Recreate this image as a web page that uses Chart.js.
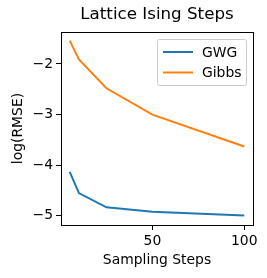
<!DOCTYPE html>
<html><head><meta charset="utf-8">
<script src="https://cdn.jsdelivr.net/npm/chart.js@4"></script>
<style>html,body{margin:0;padding:0;background:#fff}#wrap{width:267px;height:278px}</style>
</head><body><div id="wrap"><canvas id="c"></canvas></div>
<script>
const steps = [5, 10, 25, 50, 100];
const gwg = [-4.13, -4.55, -4.83, -4.92, -4.99];
const gibbs = [-1.54, -1.91, -2.48, -3.00, -3.63];
const xTicks = [50, 100];
const yTicks = [-5, -4, -3, -2];
const seriesNames = ['GWG', 'Gibbs'];
const FONT = "'DejaVu Sans', sans-serif";

const frame = {
  id: 'frame',
  afterLayout(chart) {
    const t = chart.titleBlock, a = chart.chartArea;
    if (t) { t.left = a.left; t.right = a.right; t.width = a.right - a.left; }
  },
  afterDatasetsDraw(chart) {
    const {ctx, chartArea: a} = chart;
    ctx.save();
    ctx.strokeStyle = '#000'; ctx.lineWidth = 1;
    ctx.strokeRect(Math.round(a.left) + 0.5, Math.round(a.top) + 0.5, Math.round(a.right - a.left), Math.round(a.bottom - a.top));
    // legend
    const bx = 157.5, by = 39.5, bw = 89, bh = 46;
    ctx.fillStyle = 'rgba(255,255,255,0.8)';
    ctx.strokeStyle = '#cccccc';
    ctx.beginPath();
    ctx.roundRect(bx, by, bw, bh, 2);
    ctx.fill(); ctx.stroke();
    ctx.font = '13.9px ' + FONT;
    ctx.textBaseline = 'middle';
    chart.data.datasets.forEach((ds, i) => {
      const y = by + 12.5 + i * 20.5;
      ctx.strokeStyle = ds.borderColor; ctx.lineWidth = 2;
      ctx.beginPath(); ctx.moveTo(163, y); ctx.lineTo(193, y); ctx.stroke();
      ctx.fillStyle = '#000';
      ctx.fillText(ds.label, 202, y + 1);
    });
    ctx.restore();
  }
};

new Chart(document.getElementById('c'), {
  type: 'line',
  data: {
    labels: steps,
    datasets: [
      {label: seriesNames[0], data: steps.map((x, i) => ({x, y: gwg[i]})), borderColor: '#1f77b4', borderWidth: 2, pointRadius: 0, fill: false, tension: 0},
      {label: seriesNames[1], data: steps.map((x, i) => ({x, y: gibbs[i]})), borderColor: '#ff7f0e', borderWidth: 2, pointRadius: 0, fill: false, tension: 0}
    ]
  },
  options: {
    responsive: true, maintainAspectRatio: false, animation: false,
    layout: {padding: {left: 0, right: 14, top: 0, bottom: 0}},
    plugins: {
      legend: {display: false},
      tooltip: {enabled: false},
      title: {display: true, text: 'Lattice Ising Steps', color: '#000', font: {family: FONT, size: 16.7, weight: 'normal'}, padding: {top: 5, bottom: 7}}
    },
    scales: {
      x: {
        type: 'linear', min: 0.25, max: 104.75,
        afterBuildTicks: s => { s.ticks = xTicks.map(v => ({value: v})); },
        afterFit: s => { s.height = 53; },
        grid: {drawOnChartArea: false, tickLength: 5, color: '#000'},
        border: {display: false},
        ticks: {color: '#000', font: {family: FONT, size: 13.9}, padding: 3, maxRotation: 0},
        title: {display: true, text: 'Sampling Steps', color: '#000', font: {family: FONT, size: 13.9}, padding: {top: 1, bottom: 9}}
      },
      y: {
        type: 'linear', min: -5.18, max: -1.37,
        afterBuildTicks: s => { s.ticks = yTicks.map(v => ({value: v})); },
        afterFit: s => { s.width = 61; },
        grid: {drawOnChartArea: false, tickLength: 5, color: '#000'},
        border: {display: false},
        ticks: {color: '#000', font: {family: FONT, size: 13.9}, padding: 3, callback: v => String(v).replace('-', '\u2212')},
        title: {display: true, text: 'log(RMSE)', color: '#000', font: {family: FONT, size: 13.9}, padding: {top: 10, bottom: 2}}
      }
    }
  },
  plugins: [frame]
});
</script></body></html>
